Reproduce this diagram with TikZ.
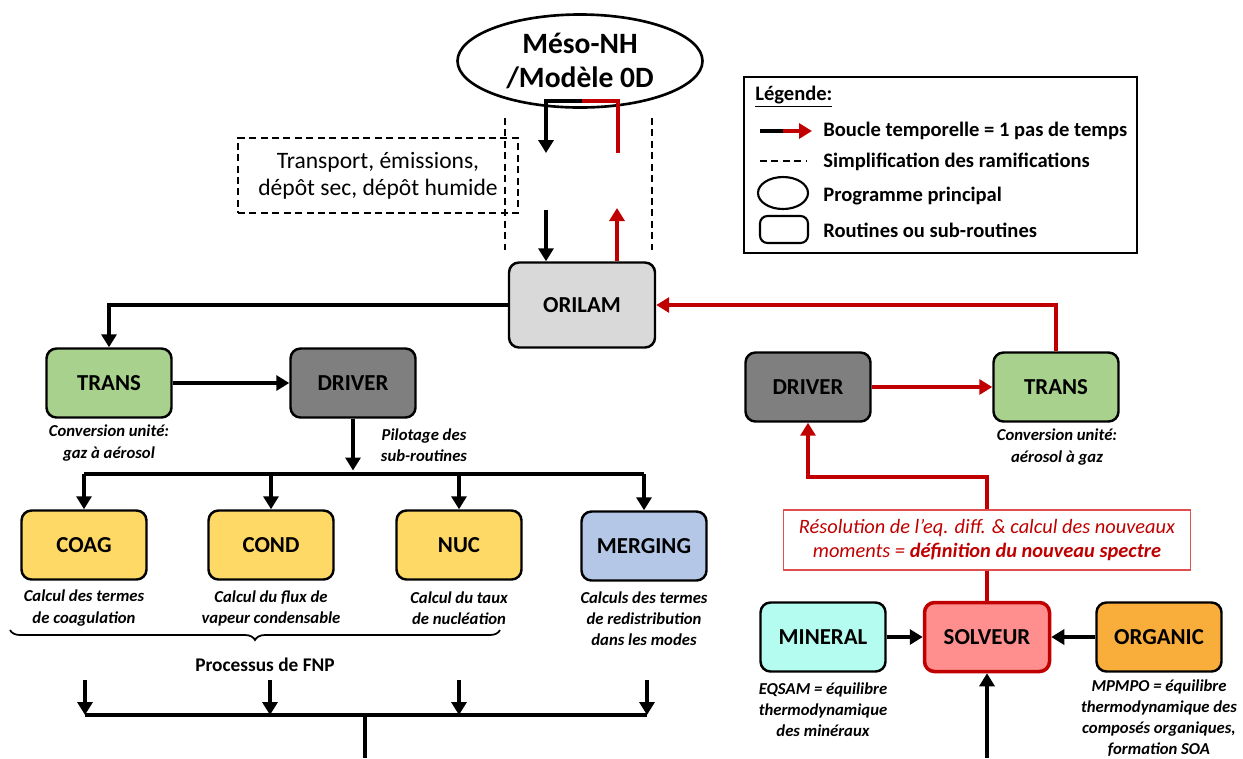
\documentclass[tikz,border=0pt]{standalone}
\usepackage{fontspec}
\setmainfont{Carlito}
\usetikzlibrary{arrows.meta,shapes.geometric,decorations.pathreplacing}

\definecolor{loopred}{HTML}{C00000}
\definecolor{orilamgray}{HTML}{D9D9D9}
\definecolor{drivergray}{HTML}{7F7F7F}
\definecolor{transgreen}{HTML}{A9D18E}
\definecolor{procyellow}{HTML}{FFD966}
\definecolor{mergeblue}{HTML}{B4C7E7}
\definecolor{mineralaqua}{HTML}{B3FCEF}
\definecolor{organicorange}{HTML}{F9AD3B}
\definecolor{solveurpink}{HTML}{FF8F8F}
\definecolor{specborder}{HTML}{E05050}

\tikzset{
  routine/.style={draw, line width=1.4pt, rounded corners=2mm,
    minimum width=25mm, minimum height=13.8mm,
    font=\fontsize{13}{15}\selectfont\bfseries},
  note/.style={align=center, font=\fontsize{9.5}{12}\selectfont\bfseries\itshape},
  flow/.style={line width=2.2pt, -{Triangle[length=2.6mm,width=3mm]}},
  loopflow/.style={flow, loopred},
  loopline/.style={line width=2.2pt, loopred},
  simpl/.style={line width=1.3pt, dash pattern=on 4pt off 2.5pt},
  legtext/.style={anchor=west, inner sep=0pt, font=\fontsize{11.7}{14}\selectfont\bfseries}
}

\begin{document}
\begin{tikzpicture}[x=0.2mm, y=-0.2mm]
        \useasboundingbox (0,0) rectangle (1243,758);

        % programme principal
        \node[draw, ellipse, fill=white, line width=1.5pt, inner sep=0pt, minimum width=49mm, minimum height=18.6mm,
              align=center, font=\fontsize{16.8}{19}\selectfont\bfseries] (meso) at (580,61) {M\'eso-NH\\/Mod\`ele 0D};
        \coordinate (mesoout) at (582,101);
        \coordinate (downA) at (546,153);
        \coordinate (downB) at (546,210);
        \coordinate (upA) at (618,153);
        \coordinate (upB) at (617,208);

        % simplification
        \node[draw, simpl, minimum width=56mm, minimum height=15mm, align=center,
              font=\fontsize{13.4}{15.5}\selectfont] (transport) at (378,175.5) {Transport, \'emissions,\\d\'ep\^ot sec, d\'ep\^ot humide};
        \coordinate (dashLtop) at (505,118);
        \coordinate (dashLbot) at (505,250);
        \coordinate (dashRtop) at (652,118);
        \coordinate (dashRbot) at (652,250);
        \draw[simpl] (dashLtop) -- (dashLbot);
        \draw[simpl] (dashRtop) -- (dashRbot);

        \node[routine, fill=orilamgray, minimum width=29.2mm, minimum height=17mm] (orilam) at (582,305) {ORILAM};

        \draw[flow] (mesoout) -- (546,101) -- (downA);
        \draw[loopline] (mesoout) -- (618,101) -- (upA);
        \draw[flow] (downB) -- (downB |- orilam.north);
        \draw[loopflow] (upB |- orilam.north) -- (upB);

        % branche gauche
        \node[routine, fill=transgreen] (transL) at (109,383) {TRANS};
        \node[routine, fill=drivergray] (driverL) at (353,383) {DRIVER};
        \node[note] (transLnote) at (109,443) {Conversion unit\'e:\\gaz \`a a\'erosol};
        \node[note] (driverLnote) at (424,445) {Pilotage des\\sub-routines};
        \draw[flow] (orilam.west) -| (transL.north);
        \draw[flow] (transL) -- (driverL);

        \node[routine, fill=procyellow] (coag) at (84,545) {COAG};
        \node[routine, fill=procyellow] (cond) at (271,545) {COND};
        \node[routine, fill=procyellow] (nuc) at (459,545) {NUC};
        \node[routine, fill=mergeblue] (merging) at (644,546) {MERGING};
        \node[note] (coagnote) at (84,608) {Calcul des termes\\de coagulation};
        \node[note] (condnote) at (271,608) {Calcul du flux de\\vapeur condensable};
        \node[note] (nucnote) at (459,608) {Calcul du taux\\de nucl\'eation};
        \node[note] (mergingnote) at (644,619) {Calculs des termes\\de redistribution\\dans les modes};

        \coordinate (split) at (353,474);
        \draw[flow] (driverL.south) -- ([yshift=2pt]split);
        \draw[line width=2.2pt] (coag.north |- split) -- (merging.north |- split);
        \foreach \b in {coag,cond,nuc,merging}
          \draw[flow] (\b.north |- split) -- (\b.north);

        \draw[line width=1pt, decorate, decoration={brace, mirror, amplitude=2mm}] (10,630) -- (500,630);
        \node[font=\fontsize{11}{13}\selectfont\bfseries] (fnp) at (265,665) {Processus de FNP};

        \coordinate (collect) at (365,715);
        \coordinate (bottomL) at (365,758);
        \draw[line width=2.2pt] (85,715) -- (647,715);
        \foreach \x in {85,270,459,647}
          \draw[flow] (\x,680) -- (\x,715);
        \draw[line width=2.2pt] (collect) -- (bottomL);

        % branche droite
        \node[routine, fill=drivergray] (driverR) at (808,387) {DRIVER};
        \node[routine, fill=transgreen] (transR) at (1056,387) {TRANS};
        \node[note] (transRnote) at (1057,447) {Conversion unit\'e:\\a\'erosol \`a gaz};
        \draw[loopflow] (driverR) -- (transR);
        \draw[loopflow] (transR.north) |- (orilam.east);

        \node[draw=specborder, line width=0.8pt, fill=white, minimum width=81.4mm, minimum height=12mm,
              align=center, text=loopred, font=\fontsize{11.6}{13.6}\selectfont\itshape] (spec) at (987,540)
              {R\'esolution de l'eq. diff. \& calcul des nouveaux\\moments = \textbf{d\'efinition du nouveau spectre}};
        \node[routine, fill=solveurpink, draw=loopred, line width=2pt] (solveur) at (987,637) {SOLVEUR};
        \node[routine, fill=mineralaqua] (mineral) at (823,637) {MINERAL};
        \node[routine, fill=organicorange] (organic) at (1159,637) {ORGANIC};
        \node[note] (mineralnote) at (823,710) {EQSAM = \'equilibre\\thermodynamique\\des min\'eraux};
        \node[note] (organicnote) at (1159,718) {MPMPO = \'equilibre\\thermodynamique des\\compos\'es organiques,\\formation SOA};

        \coordinate (rturn) at (808,477);
        \coordinate (solveurin) at (987,758);
        \draw[loopline] (solveur.north) -- (spec.south);
        \draw[loopflow] (spec.north) |- (rturn) -- (driverR.south);
        \draw[flow] (mineral) -- (solveur);
        \draw[flow] (organic) -- (solveur);
        \draw[flow] (solveurin) -- (solveur.south);

        % legende
        \node[draw, line width=1.2pt, minimum width=78.6mm, minimum height=35.2mm] (legend) at (940.5,165) {};
        \node[legtext] (legtitle) at (755,97) {\underline{L\'egende:}};
        \draw[line width=2.2pt] (760,131) -- (784,131);
        \draw[loopflow] (783,131) -- (812,131);
        \node[legtext] (legloop) at (823,131) {Boucle temporelle = 1 pas de temps};
        \draw[line width=1.3pt, dash pattern=on 4pt off 2.5pt] (760,161) -- (806,161);
        \node[legtext] (legsimpl) at (823,162) {Simplification des ramifications};
        \node[draw, ellipse, line width=1.2pt, minimum width=10mm, minimum height=6.4mm] (legellipse) at (783,193) {};
        \node[legtext] (legmain) at (823,196) {Programme principal};
        \node[draw, line width=1.2pt, rounded corners=1.5mm, minimum width=9.6mm, minimum height=5.4mm] (legbox) at (784,229.5) {};
        \node[legtext] (legroutine) at (823,230) {Routines ou sub-routines};
\end{tikzpicture}
\end{document}
